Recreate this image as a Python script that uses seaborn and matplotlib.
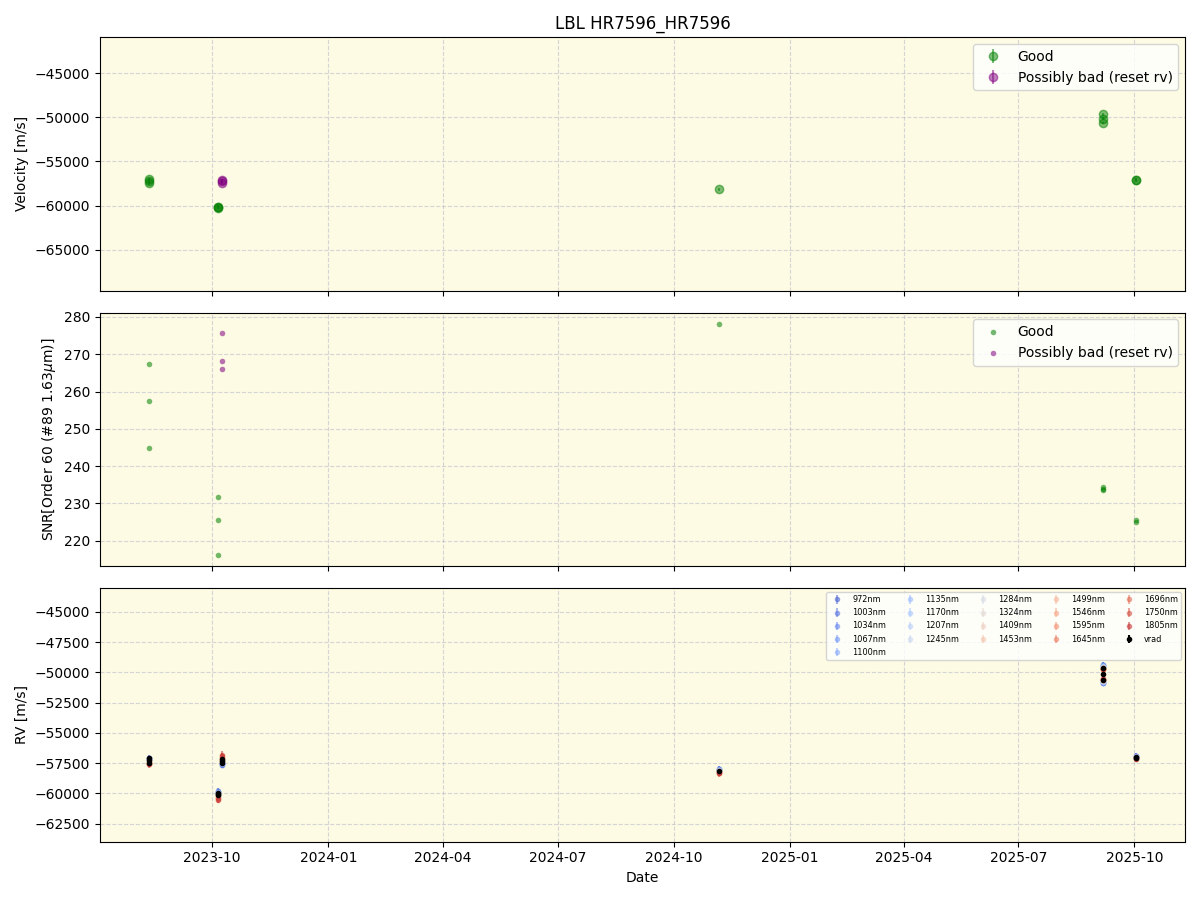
import numpy as np
import pandas as pd
import matplotlib
matplotlib.use("Agg")
import matplotlib.pyplot as plt
import matplotlib.dates as mdates
import seaborn as sns

# epochs flagged good / possibly bad
good_dates = ["2023-08-12", "2023-08-12", "2023-08-12",
              "2023-10-06", "2023-10-06", "2023-10-06",
              "2024-11-06",
              "2025-09-06", "2025-09-06", "2025-09-06",
              "2025-10-02", "2025-10-02"]
good_vel = [-57000, -57250, -57450, -60100, -60200, -60250, -58150,
            -49650, -50150, -50650, -57050, -57150]
good_err = [150, 150, 160, 140, 150, 150, 170, 160, 150, 150, 140, 140]
good_snr = [267.4, 257.5, 244.9, 231.8, 225.4, 216.2, 278.1,
            234.3, 233.8, 233.5, 225.6, 225.1]

bad_dates = ["2023-10-09", "2023-10-09", "2023-10-09"]
bad_vel = [-57100, -57250, -57400]
bad_err = [150, 150, 150]
bad_snr = [275.7, 268.2, 266.1]

# per-band RV
bands = ["972nm", "1003nm", "1034nm", "1067nm", "1100nm", "1135nm", "1170nm",
         "1207nm", "1245nm", "1284nm", "1324nm", "1409nm", "1453nm", "1499nm",
         "1546nm", "1595nm", "1645nm", "1696nm", "1750nm", "1805nm"]
band_dates = ["2023-08-12", "2023-10-06", "2023-10-09", "2024-11-06",
              "2025-09-06", "2025-09-06", "2025-10-02"]
band_rv = [
    [-57050, -57080, -57100, -57120, -57150, -57180, -57200, -57220, -57240, -57260,
     -57280, -57300, -57320, -57380, -57420, -57460, -57500, -57540, -57560, -57600],
    [-59800, -59820, -59850, -59880, -59900, -59920, -59950, -59980, -60000, -60020,
     -60050, -60080, -60100, -60200, -60250, -60300, -60350, -60400, -60450, -60500],
    [-57650, -57620, -57600, -57580, -57550, -57520, -57500, -57480, -57450, -57420,
     -57400, -57380, -57350, -57250, -57200, -57150, -57050, -57000, -56900, -56800],
    [-57950, -57970, -57990, -58010, -58030, -58050, -58070, -58090, -58100, -58120,
     -58130, -58150, -58170, -58200, -58220, -58250, -58280, -58300, -58320, -58350],
    [-49350, -49370, -49400, -49420, -49450, -49470, -49500, -49520, -49540, -49560,
     -49580, -49600, -49620, -49640, -49660, -49680, -49690, -49700, -49700, -49700],
    [-50900, -50870, -50850, -50830, -50800, -50780, -50760, -50740, -50720, -50700,
     -50680, -50660, -50640, -50620, -50600, -50590, -50580, -50570, -50560, -50550],
    [-56900, -56910, -56920, -56930, -56940, -56950, -56960, -56970, -56980, -56990,
     -57000, -57010, -57020, -57040, -57060, -57080, -57100, -57110, -57130, -57150],
]
band_err = [250, 240, 230, 220, 210, 200, 200, 200, 210, 220,
            230, 240, 250, 250, 240, 230, 220, 230, 250, 270]

vrad_dates = good_dates + bad_dates
vrad = [-57050, -57250, -57450, -60000, -60050, -60100, -58130,
        -49620, -50100, -50600, -56980, -57050,
        -57150, -57300, -57450]
vrad_err = [180] * len(vrad)

good_t = pd.to_datetime(good_dates)
bad_t = pd.to_datetime(bad_dates)
band_t = pd.to_datetime(band_dates)
vrad_t = pd.to_datetime(vrad_dates)

bg = "#fdfbe3"
fig, axes = plt.subplots(3, 1, figsize=(12, 9), dpi=100, sharex=True)
ax1, ax2, ax3 = axes

# velocity
ax1.errorbar(good_t, good_vel, yerr=good_err, fmt="o", color="green",
             alpha=0.5, ms=6, label="Good")
ax1.errorbar(bad_t, bad_vel, yerr=bad_err, fmt="o", color="purple",
             alpha=0.5, ms=6, label="Possibly bad (reset rv)")
ax1.set_ylim(-69630, -40930)
ax1.set_ylabel("Velocity [m/s]")
ax1.set_title("LBL HR7596_HR7596")
ax1.legend(loc="upper right")

# SNR
sns.scatterplot(x=good_t, y=good_snr, color="green", alpha=0.55, s=16,
                linewidth=0, ax=ax2, label="Good")
sns.scatterplot(x=bad_t, y=bad_snr, color="purple", alpha=0.55, s=16,
                linewidth=0, ax=ax2, label="Possibly bad (reset rv)")
ax2.set_ylabel("SNR[Order 60 (#89 1.63$\\mu$m)]")
ax2.legend(loc="upper right")

# RV per band
pal = sns.color_palette("coolwarm", len(bands))
for i, b in enumerate(bands):
    vals = [row[i] for row in band_rv]
    ax3.errorbar(band_t, vals, yerr=band_err[i], fmt="o", color=pal[i],
                 alpha=0.5, ms=3, label=b)
ax3.errorbar(vrad_t, vrad, yerr=vrad_err, fmt="o", color="black",
             ms=3, label="vrad")
ax3.set_ylim(-63990, -43020)
ax3.set_ylabel("RV [m/s]")
ax3.set_xlabel("Date")
ax3.legend(loc="upper right", ncol=5, fontsize=5.85)

for ax in axes:
    ax.set_facecolor(bg)
    ax.grid(True, linestyle="--", alpha=0.5, color="#b0b0c8")
    ax.set_axisbelow(True)

ax3.xaxis.set_major_locator(mdates.MonthLocator(bymonth=[1, 4, 7, 10]))
ax3.xaxis.set_major_formatter(mdates.DateFormatter("%Y-%m"))

plt.tight_layout()
plt.savefig("out.png")
